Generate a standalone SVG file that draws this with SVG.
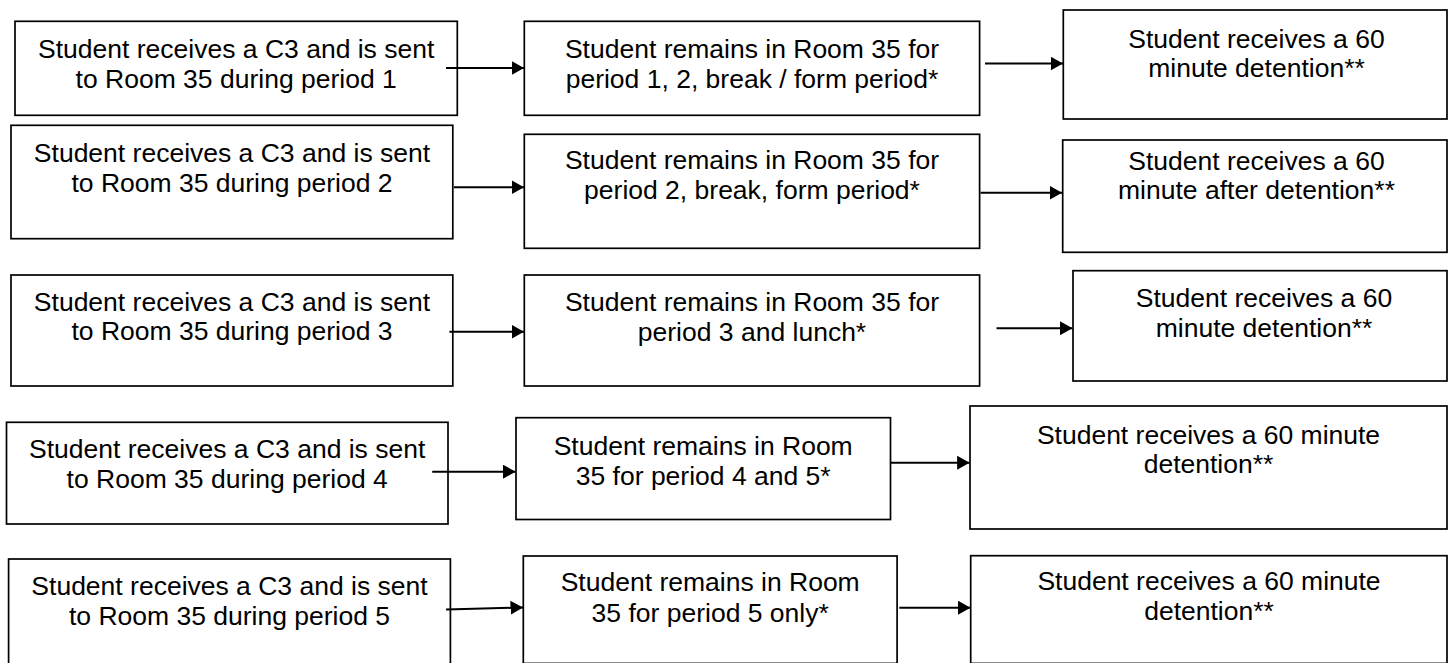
<svg xmlns="http://www.w3.org/2000/svg" width="1448" height="663" viewBox="0 0 1448 663">
<style>
  .box { fill: #ffffff; stroke: #000000; stroke-width: 1.7; }
  .t { font-family: "Liberation Sans", Arial, sans-serif; font-size: 26.5px; fill: #000000; text-anchor: middle; }
  .c { fill: none; stroke: #000000; stroke-width: 2; marker-end: url(#ah); }
</style>
<defs>
  <marker id="ah" markerUnits="userSpaceOnUse" markerWidth="14" markerHeight="15" refX="12.5" refY="7" orient="auto">
    <path d="M0,0 L12.5,7 L0,14 z" fill="#000000"/>
  </marker>
</defs>
<rect x="0" y="0" width="1448" height="663" fill="#ffffff"/>

<g id="a1"><rect class="box" x="15" y="21.3" width="442.3" height="94"/>
  <text class="t" x="236.2" y="58.3">Student receives a C3 and is sent</text>
  <text class="t" x="236.2" y="88.3">to Room 35 during period 1</text></g>
<g id="b1"><rect class="box" x="524.3" y="21.3" width="455.3" height="94"/>
  <text class="t" x="752" y="58.3">Student remains in Room 35 for</text>
  <text class="t" x="752" y="88.3">period 1, 2, break / form period*</text></g>
<g id="c1"><rect class="box" x="1063.3" y="10" width="383.7" height="109"/>
  <text class="t" x="1256.5" y="47.7">Student receives a 60</text>
  <text class="t" x="1256.5" y="77.3">minute detention**</text></g>

<g id="a2"><rect class="box" x="11" y="125.3" width="441.8" height="113.4"/>
  <text class="t" x="232" y="161.7">Student receives a C3 and is sent</text>
  <text class="t" x="232" y="191.7">to Room 35 during period 2</text></g>
<g id="b2"><rect class="box" x="524.3" y="134.3" width="455.3" height="114"/>
  <text class="t" x="752" y="169.3">Student remains in Room 35 for</text>
  <text class="t" x="752" y="199">period 2, break, form period*</text></g>
<g id="c2"><rect class="box" x="1062.7" y="140" width="384.3" height="112.3"/>
  <text class="t" x="1256.5" y="170">Student receives a 60</text>
  <text class="t" x="1256.5" y="199">minute after detention**</text></g>

<g id="a3"><rect class="box" x="11" y="275" width="441.8" height="111"/>
  <text class="t" x="232" y="310.7">Student receives a C3 and is sent</text>
  <text class="t" x="232" y="340.3">to Room 35 during period 3</text></g>
<g id="b3"><rect class="box" x="524.3" y="275" width="455.3" height="111"/>
  <text class="t" x="752" y="310.7">Student remains in Room 35 for</text>
  <text class="t" x="752" y="340.5">period 3 and lunch*</text></g>
<g id="c3"><rect class="box" x="1073" y="270.7" width="374" height="110.3"/>
  <text class="t" x="1264" y="306.7">Student receives a 60</text>
  <text class="t" x="1264" y="337">minute detention**</text></g>

<g id="a4"><rect class="box" x="6.5" y="422.3" width="441.5" height="101.7"/>
  <text class="t" x="227.2" y="458.3">Student receives a C3 and is sent</text>
  <text class="t" x="227.2" y="488.3">to Room 35 during period 4</text></g>
<g id="b4"><rect class="box" x="516" y="417.7" width="374.5" height="101.8"/>
  <text class="t" x="703.2" y="455">Student remains in Room</text>
  <text class="t" x="703.2" y="484.5">35 for period 4 and 5*</text></g>
<g id="c4"><rect class="box" x="970" y="406" width="477" height="123"/>
  <text class="t" x="1208.5" y="444">Student receives a 60 minute</text>
  <text class="t" x="1208.5" y="472.7">detention**</text></g>

<g id="a5"><rect class="box" x="8.6" y="559" width="441.8" height="110"/>
  <text class="t" x="229.5" y="595">Student receives a C3 and is sent</text>
  <text class="t" x="229.5" y="625">to Room 35 during period 5</text></g>
<g id="b5"><rect class="box" x="523.3" y="556" width="373.8" height="107.4"/>
  <text class="t" x="710.2" y="590.5">Student remains in Room</text>
  <text class="t" x="710.2" y="621.5">35 for period 5 only*</text></g>
<g id="c5"><rect class="box" x="970.7" y="555.7" width="476.3" height="107.7"/>
  <text class="t" x="1209" y="590">Student receives a 60 minute</text>
  <text class="t" x="1209" y="620">detention**</text></g>

<g id="connectors">
  <line class="c" x1="446" y1="68" x2="524" y2="68"/>
  <line class="c" x1="985" y1="63.5" x2="1063" y2="63.5"/>
  <line class="c" x1="454" y1="187.3" x2="524" y2="187.3"/>
  <line class="c" x1="980.5" y1="192.7" x2="1062" y2="192.7"/>
  <line class="c" x1="449.4" y1="331.7" x2="524" y2="331.7"/>
  <line class="c" x1="996.5" y1="328.3" x2="1072.5" y2="328.3"/>
  <line class="c" x1="432.2" y1="471.7" x2="515.5" y2="471.7"/>
  <line class="c" x1="891" y1="462.7" x2="969.6" y2="462.7"/>
  <line class="c" x1="446" y1="609.5" x2="523" y2="607.5"/>
  <line class="c" x1="899.3" y1="607.7" x2="970.5" y2="607.7"/>
</g>
</svg>
